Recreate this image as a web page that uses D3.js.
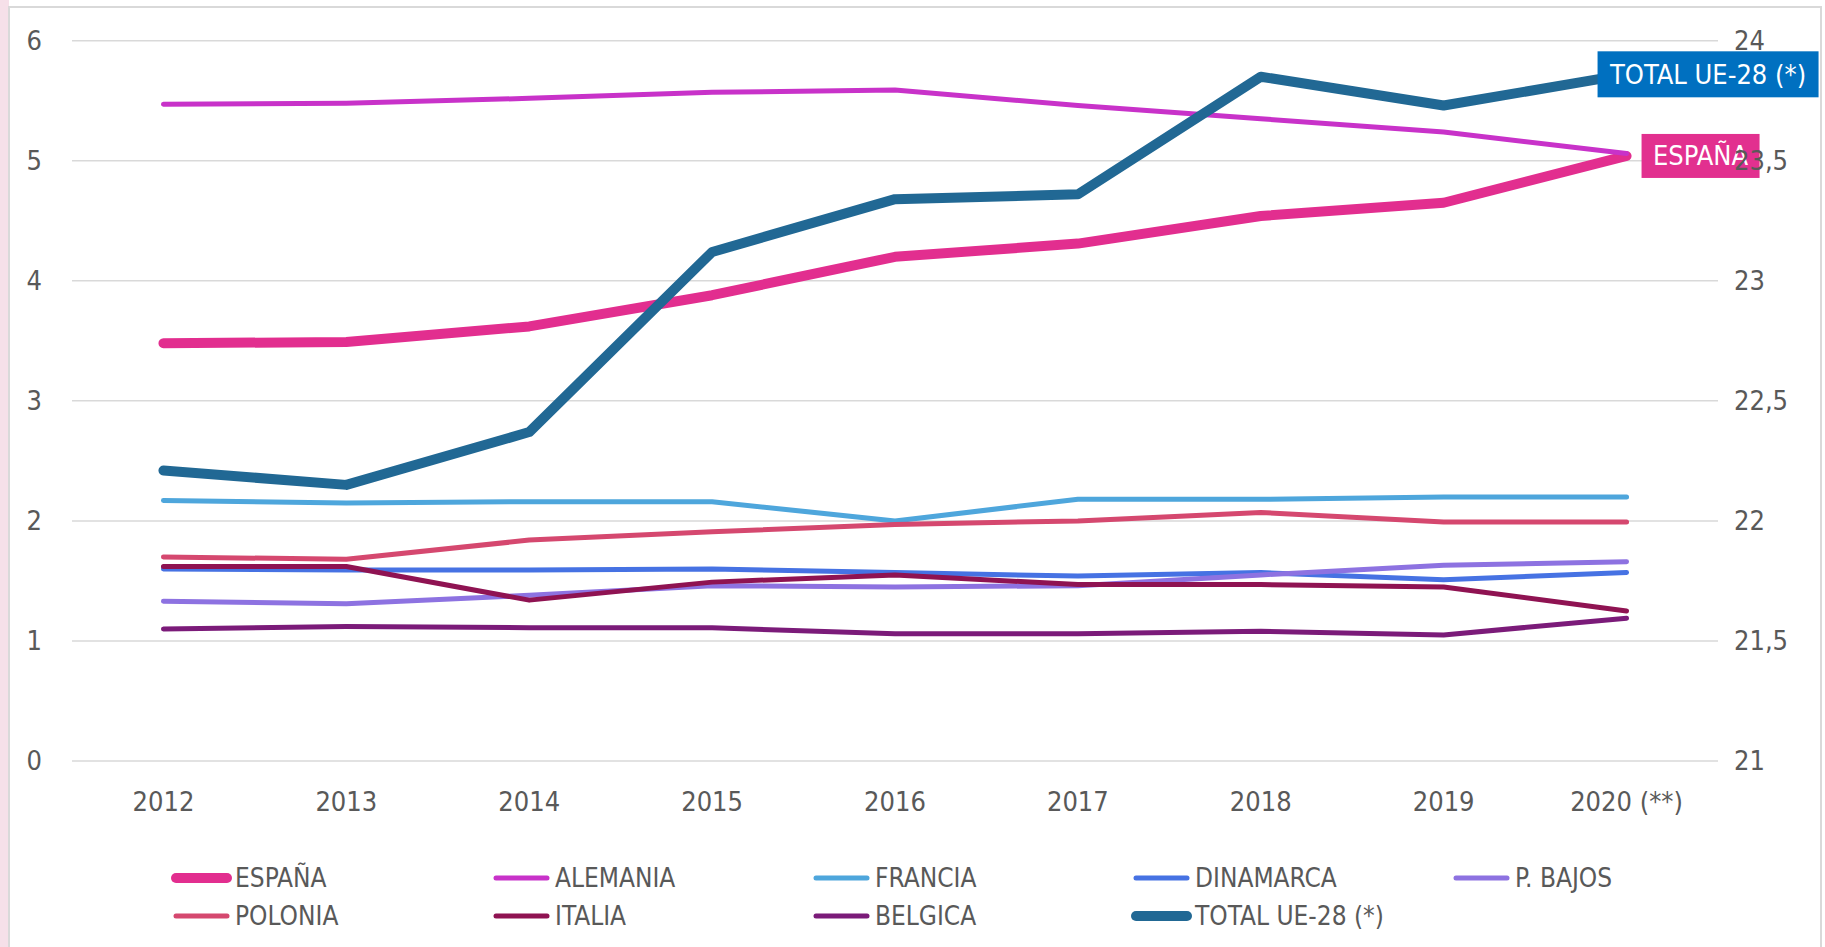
<!DOCTYPE html>
<html>
<head>
<meta charset="utf-8">
<script src="https://cdn.jsdelivr.net/npm/d3@7"></script>
<style>
  body { margin: 0; background: #fff; }
  svg text { font-family: "Liberation Sans Narrow", "DejaVu Sans Condensed", sans-serif; fill: #595959; }
  .grid line { stroke: #d9d9d9; stroke-width: 1.5; }
  .series { fill: none; stroke-linejoin: round; stroke-linecap: round; }
</style>
</head>
<body>
<div id="chart"></div>
<script>
// values
const years = ['2012', '2013', '2014', '2015', '2016', '2017', '2018', '2019', '2020 (**)'];

const espana    = [3.48, 3.49, 3.62, 3.88, 4.20, 4.31, 4.54, 4.65, 5.04];
const alemania  = [5.47, 5.48, 5.52, 5.57, 5.59, 5.46, 5.35, 5.24, 5.06];
const francia   = [2.17, 2.15, 2.16, 2.16, 2.00, 2.18, 2.18, 2.20, 2.20];
const dinamarca = [1.60, 1.59, 1.59, 1.60, 1.57, 1.54, 1.57, 1.51, 1.57];
const pBajos    = [1.33, 1.31, 1.38, 1.46, 1.45, 1.46, 1.55, 1.63, 1.66];
const polonia   = [1.70, 1.68, 1.84, 1.91, 1.97, 2.00, 2.07, 1.99, 1.99];
const italia    = [1.62, 1.62, 1.34, 1.49, 1.55, 1.47, 1.47, 1.45, 1.25];
const belgica   = [1.10, 1.12, 1.11, 1.11, 1.06, 1.06, 1.08, 1.05, 1.19];
// secondary (right) axis
const totalUE   = [22.21, 22.15, 22.37, 23.12, 23.34, 23.36, 23.85, 23.73, 23.86];

const leftTicks  = [0, 1, 2, 3, 4, 5, 6];
const rightTicks = [21, 21.5, 22, 22.5, 23, 23.5, 24];

const seriesNames = ['ESPAÑA', 'ALEMANIA', 'FRANCIA', 'DINAMARCA', 'P. BAJOS',
                     'POLONIA', 'ITALIA', 'BELGICA', 'TOTAL UE-28 (*)'];
const seriesValues = [espana, alemania, francia, dinamarca, pBajos,
                      polonia, italia, belgica, totalUE];

class LineChart {

  constructor(_config, _data) {
    this.config = {
      parentElement: _config.parentElement,
      containerWidth: 1825,
      containerHeight: 947,
      plot: {left: 72, right: 1718, top: 40.7, bottom: 761},
      colors: ['#e22e8f', '#c832c9', '#4ea6dc', '#4672e3', '#8d72e1',
               '#d5486f', '#8f1352', '#7b1b79', '#216894'],
      thick: ['ESPAÑA', 'TOTAL UE-28 (*)'],
      fontSize: 27
    }
    this.data = _data
    this.initVis();
  }

  initVis() {
    let vis = this;
    let p = vis.config.plot;

    vis.xScale = d3.scalePoint()
        .domain(years)
        .range([p.left, p.right])
        .padding(0.5);

    vis.yLeft = d3.scaleLinear()
        .domain([0, 6])
        .range([p.bottom, p.top]);

    vis.yRight = d3.scaleLinear()
        .domain([21, 24])
        .range([p.bottom, p.top]);

    vis.color = d3.scaleOrdinal()
        .domain(seriesNames)
        .range(vis.config.colors);

    vis.svg = d3.select(vis.config.parentElement).append('svg')
        .attr('width', vis.config.containerWidth)
        .attr('height', vis.config.containerHeight);

    // pale strip of the page behind the chart
    vis.svg.append('rect')
        .attr('x', 0).attr('y', 0)
        .attr('width', 9).attr('height', vis.config.containerHeight)
        .attr('fill', '#f6e0e9');

    vis.svg.append('rect')
        .attr('x', 9).attr('y', 7)
        .attr('width', 1812).attr('height', 960)
        .attr('fill', '#fff')
        .attr('stroke', '#d9d9d9')
        .attr('stroke-width', 2);

    vis.gridG = vis.svg.append('g').attr('class', 'grid');
    vis.linesG = vis.svg.append('g');
    vis.labelsG = vis.svg.append('g');
    vis.axesG = vis.svg.append('g');
    vis.legendG = vis.svg.append('g');
  }

  updateVis() {
    let vis = this;
    vis.xValue = (d, i) => years[i];
    vis.yScaleOf = d => d.name === 'TOTAL UE-28 (*)' ? vis.yRight : vis.yLeft;
    vis.renderVis();
  }

  renderVis() {
    let vis = this;
    let p = vis.config.plot;
    let fs = vis.config.fontSize;
    let comma = d3.format(',');

    // gridlines from the left axis
    vis.gridG.selectAll('line')
        .data(leftTicks)
        .join('line')
        .attr('x1', p.left).attr('x2', p.right)
        .attr('y1', d => vis.yLeft(d)).attr('y2', d => vis.yLeft(d));

    // series lines
    vis.linesG.selectAll('.series')
        .data(vis.data)
        .join('path')
        .attr('class', 'series')
        .attr('stroke', d => vis.color(d.name))
        .attr('stroke-width', d => vis.config.thick.includes(d.name) ? 10 : 5)
        .attr('d', d => {
          let y = vis.yScaleOf(d);
          return d3.line()
              .x((v, i) => vis.xScale(years[i]))
              .y(v => y(v))(d.values);
        });

    // end labels
    let endLabels = [
      {name: 'TOTAL UE-28 (*)', fill: '#0070c0', dx: -29, w: 221, h: 46},
      {name: 'ESPAÑA', fill: '#e2308f', dx: 15, w: 118, h: 44}
    ];
    let last = years[years.length - 1];
    let lg = vis.labelsG.selectAll('g')
        .data(endLabels)
        .join('g')
        .attr('transform', d => {
          let s = vis.data.find(e => e.name === d.name);
          let y = vis.yScaleOf(s)(s.values[s.values.length - 1]);
          return `translate(${vis.xScale(last) + d.dx},${y - d.h / 2})`;
        });
    lg.append('rect')
        .attr('width', d => d.w).attr('height', d => d.h)
        .attr('fill', d => d.fill);
    lg.append('text')
        .attr('x', d => d.w / 2).attr('y', d => d.h / 2)
        .attr('dy', '0.35em')
        .attr('text-anchor', 'middle')
        .style('fill', '#fff')
        .style('font-size', fs + 'px')
        .text(d => d.name);

    // axes (text only, Excel style)
    vis.axesG.selectAll('.yl')
        .data(leftTicks)
        .join('text')
        .attr('class', 'yl')
        .attr('x', 42).attr('y', d => vis.yLeft(d))
        .attr('dy', '0.35em')
        .attr('text-anchor', 'end')
        .style('font-size', fs + 'px')
        .text(d => d);

    vis.axesG.selectAll('.yr')
        .data(rightTicks)
        .join('text')
        .attr('class', 'yr')
        .attr('x', 1734).attr('y', d => vis.yRight(d))
        .attr('dy', '0.35em')
        .style('font-size', fs + 'px')
        .text(d => comma(d).replace('.', ','));

    vis.axesG.selectAll('.xl')
        .data(years)
        .join('text')
        .attr('class', 'xl')
        .attr('x', d => vis.xScale(d)).attr('y', 802)
        .attr('dy', '0.35em')
        .attr('text-anchor', 'middle')
        .style('font-size', fs + 'px')
        .text(d => d);

    // legend: two rows of five columns
    let items = vis.legendG.selectAll('g')
        .data(vis.data)
        .join('g')
        .attr('transform', (d, i) => `translate(${173 + (i % 5) * 320},${i < 5 ? 878 : 916})`);
    items.append('line')
        .attr('x1', 3).attr('x2', 54)
        .attr('stroke', d => vis.color(d.name))
        .attr('stroke-width', d => vis.config.thick.includes(d.name) ? 10 : 5)
        .attr('stroke-linecap', 'round');
    items.append('text')
        .attr('x', 62).attr('dy', '0.35em')
        .style('font-size', (fs - 1) + 'px')
        .text(d => d.name);
  }
}

let data = seriesNames.map((name, i) => ({name: name, values: seriesValues[i]}));
let chart = new LineChart({parentElement: '#chart'}, data);
chart.updateVis();
</script>
</body>
</html>
